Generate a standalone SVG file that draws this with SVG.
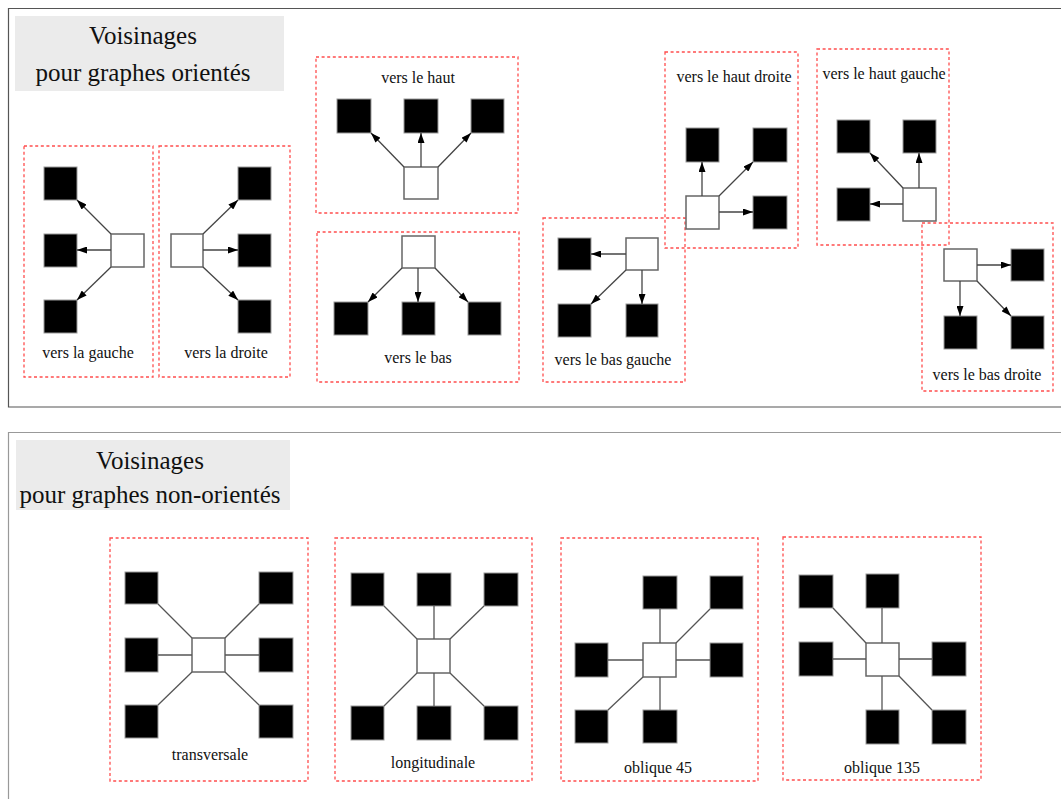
<svg xmlns="http://www.w3.org/2000/svg" width="1061" height="799" viewBox="0 0 1061 799">
<style>
.panel{fill:none;stroke:#555;stroke-width:1.2}
.title{fill:#ebebeb}
.tt{font-family:"Liberation Serif",serif;font-size:25px;fill:#111;text-anchor:middle}
.lbl{font-family:"Liberation Serif",serif;font-size:16px;fill:#111;text-anchor:middle}
.grp{fill:none;stroke:#ff4d4d;stroke-width:1.3;stroke-dasharray:3 2.6}
.b{fill:#000;stroke:#999;stroke-width:1}
.w{fill:#fff;stroke:#666;stroke-width:1.5}
.a{stroke:#444;stroke-width:1.3;fill:none;marker-end:url(#ah)}
.l{stroke:#555;stroke-width:1.3;fill:none}
</style>
<defs>
<marker id="ah" viewBox="0 0 10 7" refX="10" refY="3.5" markerWidth="10" markerHeight="7" markerUnits="userSpaceOnUse" orient="auto">
<path d="M0,0 L10,3.5 L0,7 z" fill="#000"/>
</marker>
</defs>
<rect width="1061" height="799" fill="#fff"/>
<!-- panels -->
<path class="panel" d="M1065,8.5 H8.5 V407 H1065" stroke="#444"/>
<path d="M1065,432.5 H8.5 V805" fill="none" stroke="#999" stroke-width="1.2"/>
<g id="title-oriente">
<rect class="title" x="15" y="16" width="269" height="75"/>
<text class="tt" x="143" y="44">Voisinages</text>
<text class="tt" x="143" y="81">pour graphes orientés</text>
</g>
<g id="title-nonoriente">
<rect class="title" x="16" y="440" width="274" height="70"/>
<text class="tt" x="150" y="469">Voisinages</text>
<text class="tt" x="150" y="503">pour graphes non-orientés</text>
</g>

<!-- vers la gauche -->
<g id="gauche">
<rect class="grp" x="24" y="146" width="129" height="231"/>
<rect class="b" x="44" y="167" width="33" height="33"/>
<rect class="b" x="44" y="234" width="33" height="33"/>
<rect class="b" x="44" y="300" width="33" height="33"/>
<rect class="w" x="111" y="234" width="33" height="33"/>
<text class="lbl" x="88" y="358">vers la gauche</text>
</g>
<g id="droite">
<rect class="grp" x="159" y="146" width="131" height="231"/>
<rect class="b" x="238" y="167" width="33" height="33"/>
<rect class="b" x="238" y="234" width="33" height="33"/>
<rect class="b" x="238" y="300" width="33" height="33"/>
<rect class="w" x="171" y="234" width="32" height="33"/>
<text class="lbl" x="226" y="358">vers la droite</text>
</g>
<g id="haut">
<rect class="grp" x="316" y="57" width="202" height="156"/>
<text class="lbl" x="418" y="83">vers le haut</text>
<rect class="b" x="337" y="99" width="34" height="34"/>
<rect class="b" x="404" y="99" width="34" height="34"/>
<rect class="b" x="471" y="99" width="33" height="34"/>
<rect class="w" x="404" y="167" width="34" height="32"/>
</g>
<g id="bas">
<rect class="grp" x="317" y="232" width="202" height="150"/>
<rect class="w" x="402" y="236" width="33" height="32"/>
<rect class="b" x="334" y="302" width="34" height="33"/>
<rect class="b" x="402" y="302" width="33" height="33"/>
<rect class="b" x="468" y="302" width="33" height="33"/>
<text class="lbl" x="418" y="363">vers le bas</text>
</g>
<g id="bas-gauche">
<rect class="grp" x="543" y="218" width="142" height="164"/>
<rect class="w" x="626" y="238" width="32" height="32"/>
<rect class="b" x="558" y="238" width="33" height="32"/>
<rect class="b" x="558" y="304" width="33" height="33"/>
<rect class="b" x="626" y="304" width="32" height="33"/>
<text class="lbl" x="613" y="365">vers le bas gauche</text>
</g>
<g id="haut-droite">
<rect class="grp" x="665" y="52" width="133" height="196"/>
<text class="lbl" x="734" y="82">vers le haut droite</text>
<rect class="b" x="686" y="128" width="33" height="34"/>
<rect class="b" x="753" y="128" width="34" height="34"/>
<rect class="b" x="753" y="196" width="34" height="33"/>
<rect class="w" x="686" y="196" width="33" height="33"/>
</g>
<g id="haut-gauche">
<rect class="grp" x="817" y="49" width="132" height="196"/>
<text class="lbl" x="884" y="79">vers le haut gauche</text>
<rect class="b" x="837" y="120" width="33" height="33"/>
<rect class="b" x="903" y="120" width="33" height="33"/>
<rect class="b" x="837" y="188" width="33" height="33"/>
<rect class="w" x="903" y="188" width="33" height="33"/>
</g>
<g id="bas-droite">
<rect class="grp" x="922" y="223" width="131" height="168"/>
<rect class="w" x="944" y="249" width="33" height="32"/>
<rect class="b" x="1011" y="249" width="33" height="32"/>
<rect class="b" x="944" y="316" width="33" height="33"/>
<rect class="b" x="1011" y="316" width="33" height="33"/>
<text class="lbl" x="987" y="380">vers le bas droite</text>
</g>

<!-- non-orientes -->
<g id="transversale">
<rect class="grp" x="110" y="538" width="198" height="243"/>
<rect class="b" x="125" y="572" width="33" height="32"/>
<rect class="b" x="125" y="638" width="33" height="34"/>
<rect class="b" x="125" y="705" width="33" height="33"/>
<rect class="b" x="259" y="572" width="34" height="32"/>
<rect class="b" x="259" y="638" width="34" height="34"/>
<rect class="b" x="259" y="705" width="34" height="33"/>
<rect class="w" x="192" y="638" width="33" height="34"/>
<text class="lbl" x="210" y="760">transversale</text>
</g>
<g id="longitudinale">
<rect class="grp" x="335" y="538" width="197" height="243"/>
<rect class="b" x="351" y="573" width="33" height="33"/>
<rect class="b" x="417" y="573" width="34" height="33"/>
<rect class="b" x="484" y="573" width="34" height="33"/>
<rect class="b" x="351" y="706" width="33" height="34"/>
<rect class="b" x="417" y="706" width="34" height="34"/>
<rect class="b" x="484" y="706" width="34" height="34"/>
<rect class="w" x="417" y="639" width="33" height="34"/>
<text class="lbl" x="433" y="768">longitudinale</text>
</g>
<g id="oblique45">
<rect class="grp" x="561" y="538" width="197" height="243"/>
<rect class="b" x="643" y="576" width="34" height="33"/>
<rect class="b" x="710" y="576" width="33" height="33"/>
<rect class="b" x="575" y="643" width="33" height="34"/>
<rect class="b" x="710" y="643" width="33" height="34"/>
<rect class="b" x="575" y="710" width="33" height="33"/>
<rect class="b" x="643" y="710" width="34" height="33"/>
<rect class="w" x="643" y="643" width="33" height="34"/>
<text class="lbl" x="658" y="773">oblique 45</text>
</g>
<g id="oblique135">
<rect class="grp" x="783" y="537" width="198" height="243"/>
<rect class="b" x="799" y="575" width="34" height="33"/>
<rect class="b" x="866" y="574" width="33" height="34"/>
<rect class="b" x="799" y="642" width="34" height="34"/>
<rect class="b" x="932" y="642" width="34" height="34"/>
<rect class="b" x="866" y="710" width="33" height="34"/>
<rect class="b" x="932" y="710" width="34" height="34"/>
<rect class="w" x="866" y="643" width="33" height="33"/>
<text class="lbl" x="882" y="773">oblique 135</text>
</g>

<g id="connectors">
<!-- gauche -->
<line class="a" x1="111" y1="234" x2="77" y2="200"/>
<line class="a" x1="111" y1="250" x2="77" y2="250"/>
<line class="a" x1="111" y1="267" x2="77" y2="300"/>
<!-- droite -->
<line class="a" x1="203" y1="234" x2="238" y2="200"/>
<line class="a" x1="203" y1="250" x2="238" y2="250"/>
<line class="a" x1="203" y1="267" x2="238" y2="300"/>
<!-- haut -->
<line class="a" x1="404" y1="167" x2="371" y2="133"/>
<line class="a" x1="421" y1="167" x2="421" y2="133"/>
<line class="a" x1="438" y1="167" x2="471" y2="133"/>
<!-- bas -->
<line class="a" x1="402" y1="268" x2="368" y2="302"/>
<line class="a" x1="418" y1="268" x2="418" y2="302"/>
<line class="a" x1="435" y1="268" x2="468" y2="302"/>
<!-- bas gauche -->
<line class="a" x1="626" y1="254" x2="591" y2="254"/>
<line class="a" x1="626" y1="270" x2="591" y2="304"/>
<line class="a" x1="642" y1="270" x2="642" y2="304"/>
<!-- haut droite -->
<line class="a" x1="702" y1="196" x2="702" y2="162"/>
<line class="a" x1="719" y1="196" x2="753" y2="162"/>
<line class="a" x1="719" y1="212" x2="753" y2="212"/>
<!-- haut gauche -->
<line class="a" x1="903" y1="188" x2="870" y2="153"/>
<line class="a" x1="919" y1="188" x2="919" y2="153"/>
<line class="a" x1="903" y1="204" x2="870" y2="204"/>
<!-- bas droite -->
<line class="a" x1="977" y1="265" x2="1011" y2="265"/>
<line class="a" x1="960" y1="281" x2="960" y2="316"/>
<line class="a" x1="977" y1="281" x2="1011" y2="316"/>
<!-- transversale -->
<line class="l" x1="192" y1="638" x2="158" y2="604"/>
<line class="l" x1="192" y1="655" x2="158" y2="655"/>
<line class="l" x1="192" y1="672" x2="158" y2="705"/>
<line class="l" x1="225" y1="638" x2="259" y2="604"/>
<line class="l" x1="225" y1="655" x2="259" y2="655"/>
<line class="l" x1="225" y1="672" x2="259" y2="705"/>
<!-- longitudinale -->
<line class="l" x1="417" y1="639" x2="384" y2="606"/>
<line class="l" x1="434" y1="639" x2="434" y2="606"/>
<line class="l" x1="450" y1="639" x2="484" y2="606"/>
<line class="l" x1="417" y1="673" x2="384" y2="706"/>
<line class="l" x1="434" y1="673" x2="434" y2="706"/>
<line class="l" x1="450" y1="673" x2="484" y2="706"/>
<!-- oblique 45 -->
<line class="l" x1="660" y1="643" x2="660" y2="609"/>
<line class="l" x1="676" y1="643" x2="710" y2="609"/>
<line class="l" x1="643" y1="660" x2="608" y2="660"/>
<line class="l" x1="676" y1="660" x2="710" y2="660"/>
<line class="l" x1="643" y1="677" x2="608" y2="710"/>
<line class="l" x1="660" y1="677" x2="660" y2="710"/>
<!-- oblique 135 -->
<line class="l" x1="866" y1="643" x2="833" y2="608"/>
<line class="l" x1="882" y1="643" x2="882" y2="608"/>
<line class="l" x1="866" y1="659" x2="833" y2="659"/>
<line class="l" x1="899" y1="659" x2="932" y2="659"/>
<line class="l" x1="882" y1="676" x2="882" y2="710"/>
<line class="l" x1="899" y1="676" x2="932" y2="710"/>
</g>
</svg>
